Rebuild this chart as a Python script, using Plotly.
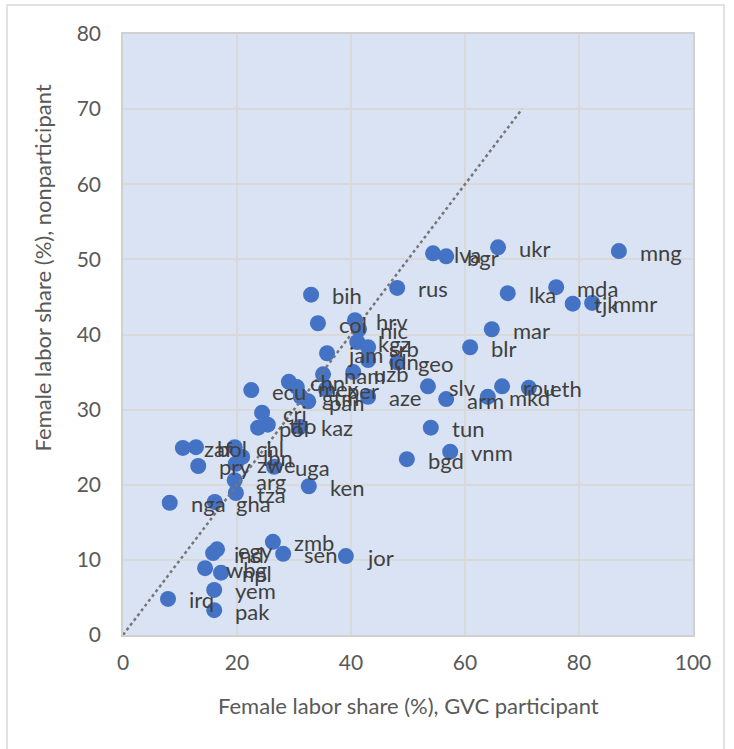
import plotly.graph_objects as go

# ---- data ----
countries = ["mng", "ukr", "lva", "bgr", "rus", "lka", "mda", "tjk", "mmr", "mar",
             "blr", "bih", "col", "hrv", "nic", "kgz", "srb", "jam", "idn", "geo",
             "nam", "uzb", "chn", "ecu", "mex", "per", "gtm", "pan", "aze", "slv",
             "arm", "mkd", "rou", "eth", "tun", "vnm", "bgd", "cri", "pol", "tto",
             "kaz", "zaf", "bol", "chl", "lbn", "pry", "zwe", "uga", "arg", "tza",
             "ken", "nga", "gha", "ind", "egy", "wbg", "npl", "yem", "pak", "irq",
             "zmb", "sen", "jor"]
gvc_share = [87.0, 65.8, 54.4, 56.7, 48.1, 67.5, 76.0, 78.9, 82.3, 64.7,
             60.9, 33.0, 34.2, 40.7, 41.4, 41.1, 43.0, 35.8, 43.0, 48.1,
             35.1, 40.4, 29.1, 22.5, 30.5, 35.6, 31.2, 32.5, 43.0, 53.5,
             56.7, 64.0, 66.5, 71.2, 54.0, 57.4, 49.8, 24.4, 23.7, 25.4,
             31.1, 10.5, 12.8, 19.6, 20.9, 13.2, 19.8, 26.5, 19.6, 19.8,
             32.6, 8.2, 16.1, 15.8, 16.5, 14.4, 17.2, 16.0, 16.0, 7.9,
             26.3, 28.1, 39.1]
nonpart_share = [51.1, 51.6, 50.8, 50.4, 46.2, 45.5, 46.3, 44.1, 44.2, 40.7,
                 38.3, 45.3, 41.5, 41.9, 40.7, 39.0, 38.3, 37.5, 36.6, 36.3,
                 34.7, 35.0, 33.7, 32.6, 33.0, 32.7, 31.7, 31.1, 31.7, 33.1,
                 31.4, 31.7, 33.1, 32.9, 27.6, 24.4, 23.4, 29.6, 27.6, 28.0,
                 27.7, 24.9, 25.0, 25.0, 23.7, 22.5, 22.8, 22.4, 20.6, 18.9,
                 19.8, 17.6, 17.7, 10.9, 11.4, 8.9, 8.3, 6.0, 3.3, 4.8,
                 12.4, 10.8, 10.5]
diag_x = [0, 70]
diag_y = [0, 70]
x_ticks = [0, 20, 40, 60, 80, 100]
y_ticks = [0, 10, 20, 30, 40, 50, 60, 70, 80]

FONT = "Lato"
fig = go.Figure()

fig.add_trace(go.Scatter(
    x=gvc_share, y=nonpart_share, mode="markers",
    marker=dict(color="#4472C4", size=16, line=dict(width=0)),
    showlegend=False, hoverinfo="text", text=countries))

fig.add_trace(go.Scatter(
    x=diag_x, y=diag_y, mode="lines",
    line=dict(color="#767676", width=2.5, dash="dot"),
    showlegend=False, hoverinfo="skip"))

annotations = []
for c, xv, yv in zip(countries, gvc_share, nonpart_share):
    annotations.append(dict(
        x=xv, y=yv, xref="x", yref="y", text=c, showarrow=False,
        xanchor="left", yanchor="middle", xshift=19, yshift=-1,
        font=dict(family=FONT, size=22, color="#404040")))

annotations.append(dict(
    x=0.5, y=-0.1165, xref="paper", yref="paper",
    text="Female labor share (%), GVC participant", showarrow=False,
    xanchor="center", yanchor="middle",
    font=dict(family=FONT, size=22, color="#595959")))
annotations.append(dict(
    x=-0.142, y=0.61, xref="paper", yref="paper", textangle=-90,
    text="Female labor share (%), nonparticipant", showarrow=False,
    xanchor="center", yanchor="middle",
    font=dict(family=FONT, size=22, color="#595959")))

fig.update_layout(
    width=734, height=749,
    margin=dict(l=123, r=41, t=34, b=114),
    paper_bgcolor="white", plot_bgcolor="#DAE3F3",
    font=dict(family=FONT, size=21, color="#595959"),
    annotations=annotations,
    shapes=[dict(type="rect", xref="paper", yref="paper",
                 x0=-0.2035, x1=1.0544, y0=-0.3, y1=1.0483,
                 line=dict(color="#D9D9D9", width=1.5), layer="below")],
    xaxis=dict(range=[0, 100], tickvals=x_ticks, showgrid=True,
               gridcolor="#D9D9D9", gridwidth=1.5, zeroline=False,
               showline=True, linecolor="#D0D0D0", linewidth=1.5, mirror=True,
               ticks="", ticklabelstandoff=8,
               tickfont=dict(family=FONT, size=21, color="#595959")),
    yaxis=dict(range=[0, 80], tickvals=y_ticks, showgrid=True,
               gridcolor="#D9D9D9", gridwidth=1.5, zeroline=False,
               showline=True, linecolor="#D0D0D0", linewidth=1.5, mirror=True,
               ticks="", ticklabelstandoff=16,
               tickfont=dict(family=FONT, size=21, color="#595959")),
)

fig.write_html("out.html")
